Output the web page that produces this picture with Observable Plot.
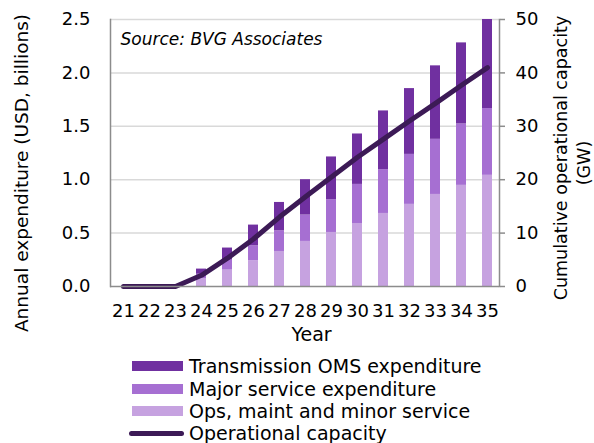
<!DOCTYPE html>
<html>
<head>
<meta charset="utf-8">
<script src="https://cdn.jsdelivr.net/npm/d3@7"></script>
<script src="https://cdn.jsdelivr.net/npm/@observablehq/plot@0.6"></script>
<style>
  body { margin: 0; background: #fff; }
  #wrap { position: relative; width: 594px; height: 443px; overflow: hidden; font-family: "DejaVu Sans", sans-serif; }
  #legend { position: absolute; left: 0; top: 0; width: 594px; height: 443px; pointer-events: none; }
  .row { position: absolute; left: 132px; height: 22px; display: flex; align-items: center; font-size: 19px; color: #000; white-space: nowrap; }
  .sw { width: 51px; height: 10px; margin-right: 6px; }
  .ln { width: 55px; height: 5px; border-radius: 3px; margin-left: -3px; margin-right: 5px; }
</style>
</head>
<body>
<div id="wrap"></div>
<script>
const years = ["21","22","23","24","25","26","27","28","29","30","31","32","33","34","35"];
const opsMinor = [0,0,0,0.075,0.154,0.241,0.328,0.422,0.506,0.590,0.684,0.769,0.862,0.947,1.041];
const majorService = [0,0,0,0.040,0.093,0.140,0.194,0.247,0.307,0.366,0.410,0.468,0.516,0.575,0.625];
const transmission = [0,0,0,0.048,0.113,0.194,0.265,0.331,0.400,0.472,0.550,0.616,0.688,0.759,0.834];
const capacityGW = [0,0,0,2.1,5.3,8.9,13.0,16.8,20.5,24.2,27.6,31.0,34.3,37.7,41.0];
const leftTicks = [0,0.5,1.0,1.5,2.0,2.5];
const seriesNames = ["Ops, maint and minor service","Major service expenditure","Transmission OMS expenditure"];
const seriesColors = ["#c6a2e0","#a66fd2","#7030a0"];
const lineName = "Operational capacity";
const lineColor = "#3c1a56";
const gwPerUnit = 20; // right axis 0–50 GW against left 0–2.5

const rows = [];
const seriesVals = [opsMinor, majorService, transmission];
years.forEach((y, i) => {
  seriesVals.forEach((arr, s) => rows.push({year: y, series: seriesNames[s], value: arr[i]}));
});
const lineRows = years.map((y, i) => ({year: y, cap: capacityGW[i]}));

const axisGray = "#8c8c8c";
const chart = Plot.plot({
  width: 594,
  height: 352,
  marginLeft: 110,
  marginRight: 95,
  marginTop: 19,
  marginBottom: 66,
  style: {fontFamily: "DejaVu Sans, sans-serif", fontSize: "18px", background: "#fff", color: "#000", overflow: "visible"},
  x: {type: "band", domain: years, paddingInner: 0.62, paddingOuter: 0.23, axis: null},
  y: {domain: [0, 2.5], axis: null},
  color: {domain: seriesNames, range: seriesColors},
  marks: [
    Plot.ruleY(leftTicks.slice(1), {stroke: "#d9d9d9", strokeWidth: 1.5}),
    Plot.barY(rows, {x: "year", y: "value", fill: "series", order: seriesNames}),
    Plot.line(lineRows, {x: "year", y: d => d.cap / gwPerUnit, stroke: lineColor, strokeWidth: 5, strokeLinecap: "round", strokeLinejoin: "round"}),
    Plot.ruleY([0], {stroke: axisGray, strokeWidth: 1.5}),
    Plot.frame({anchor: "left", stroke: axisGray, strokeWidth: 1.5}),
    Plot.frame({anchor: "right", stroke: axisGray, strokeWidth: 1.5}),
    Plot.axisY({anchor: "left", ticks: leftTicks, tickFormat: d3.format(".1f"), tickSize: 0, tickPadding: 20, label: null, fontSize: 18}),
    Plot.axisY({anchor: "right", ticks: leftTicks, tickFormat: d => String(Math.round(d * gwPerUnit)), tickSize: 5, tickPadding: 11, stroke: axisGray, strokeWidth: 1.5, label: null, fontSize: 18}),
    Plot.axisX({anchor: "bottom", tickSize: 0, tickPadding: 18, label: null, fontSize: 18}),
    Plot.text(["Year"], {frameAnchor: "bottom", dx: 6.5, dy: 54, fontSize: 19}),
    Plot.text(["Source: BVG Associates"], {frameAnchor: "top-left", textAnchor: "start", dx: 10, dy: 13, fontStyle: "italic", fontSize: 17}),
    Plot.text(["Annual expenditure (USD, billions)"], {frameAnchor: "left", textAnchor: "middle", lineAnchor: "middle", rotate: -90, dx: -88, dy: 20, fontSize: 18.5}),
    Plot.text(["Cumulative operational capacity"], {frameAnchor: "right", textAnchor: "middle", lineAnchor: "middle", rotate: -90, dx: 62, dy: 5, fontSize: 17.5}),
    Plot.text(["(GW)"], {frameAnchor: "right", textAnchor: "middle", lineAnchor: "middle", rotate: -90, dx: 85, dy: 10, fontSize: 17.5})
  ]
});

const wrap = document.getElementById("wrap");
wrap.appendChild(chart);

const legend = document.createElement("div");
legend.id = "legend";
const items = [
  {name: seriesNames[2], color: seriesColors[2], type: "bar"},
  {name: seriesNames[1], color: seriesColors[1], type: "bar"},
  {name: seriesNames[0], color: seriesColors[0], type: "bar"},
  {name: lineName, color: lineColor, type: "line"}
];
const rowCenters = [366, 388.5, 411, 433];
items.forEach((it, i) => {
  const r = document.createElement("div");
  r.className = "row";
  r.style.top = (rowCenters[i] - 11) + "px";
  const sw = document.createElement("div");
  sw.className = it.type === "bar" ? "sw" : "ln";
  sw.style.background = it.color;
  const t = document.createElement("span");
  t.textContent = it.name;
  r.appendChild(sw);
  r.appendChild(t);
  legend.appendChild(r);
});
wrap.appendChild(legend);
</script>
</body>
</html>
